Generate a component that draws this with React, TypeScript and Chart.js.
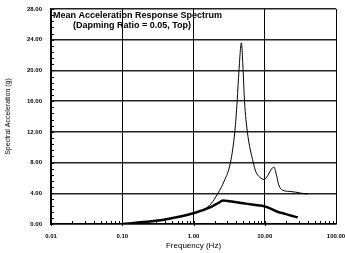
import React, { useEffect, useRef } from "react";
import { Chart, registerables } from "chart.js";

Chart.register(...registerables);

const thinFreq = [0.1, 0.2, 0.4, 0.6, 1.0, 1.4, 1.75, 2.2, 2.7, 3.3, 3.8, 4.1, 4.35, 4.7, 4.97, 5.2, 5.7, 6.9, 7.5, 8.5, 9.8, 11, 12.5, 13.5, 14.5, 15.7, 17.8, 22, 27, 33, 40];
const thinVals = [0, 0.25, 0.6, 0.9, 1.4, 1.9, 2.6, 4.0, 5.6, 8.0, 12, 16, 20, 23.6, 20, 16, 12, 8.0, 6.8, 6.1, 5.8, 6.3, 7.2, 7.4, 6.5, 5.1, 4.4, 4.25, 4.15, 4.0, 3.9];

const thickFreq = [0.1, 0.2, 0.4, 0.6, 1.0, 1.74, 2.2, 2.6, 3.0, 5.0, 7.0, 10, 15, 18, 22, 29];
const thickVals = [0, 0.25, 0.6, 0.9, 1.4, 2.2, 2.7, 3.05, 3.0, 2.7, 2.5, 2.3, 1.6, 1.4, 1.15, 0.87];

const xMajorTicks = [0.01, 0.1, 1, 10, 100];
const yMin = 0;
const yMax = 28;
const yStep = 4;
const yMinorStep = 0.8;

const titleLines = ["Mean Acceleration Response Spectrum", "(Dapming Ratio = 0.05, Top)"];
const xTitle = "Frequency (Hz)";
const yTitle = "Spectral Acceleration (g)";

const FONT = "'Liberation Sans', Arial, sans-serif";

const isMajor = (v: number) => xMajorTicks.some((m) => Math.abs(Math.log10(v) - Math.log10(m)) < 1e-6);

const overlayPlugin = {
  id: "overlay",
  afterDraw(chart: any) {
    const ctx = chart.ctx;
    const xs = chart.scales.x;
    const ys = chart.scales.y;
    const area = chart.chartArea;
    ctx.save();
    ctx.strokeStyle = "#000";
    ctx.lineWidth = 1;
    for (let v = yMin; v <= yMax + 1e-6; v += yMinorStep) {
      const py = Math.round(ys.getPixelForValue(v)) + 0.5;
      ctx.beginPath();
      ctx.moveTo(area.left - 1, py);
      ctx.lineTo(area.left + 3, py);
      ctx.stroke();
    }
    for (let d = -2; d < 2; d++) {
      for (let k = 1; k <= 9; k++) {
        const v = k * Math.pow(10, d);
        const px = Math.round(xs.getPixelForValue(v)) + 0.5;
        ctx.beginPath();
        ctx.moveTo(px, area.bottom + (k === 1 ? 2 : 0));
        ctx.lineTo(px, area.bottom - 3);
        ctx.stroke();
      }
    }
    ctx.fillStyle = "#000";
    ctx.font = `bold 9px ${FONT}`;
    ctx.textBaseline = "alphabetic";
    ctx.textAlign = "left";
    ctx.fillText(titleLines[0], area.left + 2, area.top + 9);
    ctx.fillText(titleLines[1], area.left + 22, area.top + 19);
    ctx.restore();
  },
};

export default function App() {
  const ref = useRef<HTMLCanvasElement | null>(null);
  useEffect(() => {
    document.body.style.margin = "0";
    const canvas = ref.current;
    if (!canvas) return;
    const chart = new Chart(canvas, {
      type: "line",
      data: {
        datasets: [
          {
            data: thinFreq.map((f, i) => ({ x: f, y: thinVals[i] })),
            borderColor: "#000",
            borderWidth: 1,
            pointRadius: 0,
            cubicInterpolationMode: "monotone",
            fill: false,
          },
          {
            data: thickFreq.map((f, i) => ({ x: f, y: thickVals[i] })),
            borderColor: "#000",
            borderWidth: 2.5,
            pointRadius: 0,
            cubicInterpolationMode: "monotone",
            fill: false,
          },
        ],
      },
      options: {
        animation: false,
        responsive: false,
        maintainAspectRatio: false,
        layout: { padding: { left: 4, right: 0, top: 9, bottom: 2 } },
        plugins: { legend: { display: false }, tooltip: { enabled: false }, title: { display: false } },
        scales: {
          x: {
            type: "logarithmic",
            min: 0.01,
            max: 100,
            afterFit: (s: any) => {
              s.height = 27;
              s.paddingRight = 9;
              s.paddingLeft = 0;
            },
            afterBuildTicks: (s: any) => {
              s.ticks = xMajorTicks.map((v) => ({ value: v }));
            },
            border: { color: "#000", width: 1.5 },
            grid: { color: "#000", lineWidth: 1, drawTicks: false },
            ticks: {
              autoSkip: false,
              maxRotation: 0,
              padding: 9,
              color: "#000",
              font: { family: FONT, size: 6, weight: "bold" },
              callback: (v: any) => (isMajor(Number(v)) ? Number(v).toFixed(2) : ""),
            },
            title: {
              display: true,
              text: xTitle,
              color: "#000",
              font: { family: FONT, size: 8 },
              padding: { top: 0, bottom: 0 },
            },
          },
          y: {
            min: yMin,
            max: yMax,
            afterFit: (s: any) => {
              s.width = 47;
              s.paddingTop = 0;
              s.paddingBottom = 0;
            },
            border: { color: "#000", width: 1.5 },
            grid: { color: "#222", lineWidth: 1.5, drawTicks: false },
            ticks: {
              stepSize: yStep,
              padding: 9,
              color: "#000",
              font: { family: FONT, size: 6, weight: "bold" },
              callback: (v: any) => Number(v).toFixed(2),
            },
            title: {
              display: true,
              text: yTitle,
              color: "#000",
              font: { family: FONT, size: 7 },
              padding: { top: 0, bottom: 2 },
            },
          },
        } as any,
      },
      plugins: [overlayPlugin],
    } as any);
    return () => chart.destroy();
  }, []);
  return (
    <div style={{ width: 345, height: 253 }}>
      <canvas ref={ref} width={345} height={253} style={{ display: "block" }} />
    </div>
  );
}
